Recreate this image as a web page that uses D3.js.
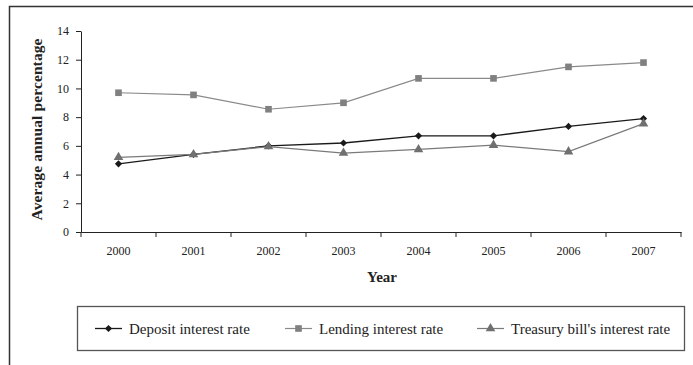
<!DOCTYPE html>
<html>
<head>
<meta charset="utf-8">
<script src="https://cdn.jsdelivr.net/npm/d3@7"></script>
<style>
  html, body { margin: 0; padding: 0; background: #fff; }
  svg { display: block; }
  text { font-family: "Liberation Serif", "Times New Roman", serif; }
</style>
</head>
<body>
<svg id="chart" width="693" height="365"></svg>
<script>
// Interest rates in percent, 2000–2007
const years = ["2000", "2001", "2002", "2003", "2004", "2005", "2006", "2007"];
const depositRate = [4.75, 5.4, 6.0, 6.2, 6.7, 6.7, 7.35, 7.9];
const lendingRate = [9.7, 9.55, 8.55, 9.0, 10.7, 10.7, 11.5, 11.8];
const treasuryRate = [5.2, 5.4, 5.95, 5.5, 5.75, 6.05, 5.6, 7.55];
const yTicks = [0, 2, 4, 6, 8, 10, 12, 14];
const seriesNames = ["Deposit interest rate", "Lending interest rate", "Treasury bill's interest rate"];

const serif = "Liberation Serif, Times New Roman, serif";

// Diamond = square turned 45 degrees
const series = [
  { name: seriesNames[0], values: depositRate, stroke: "#1a1a1a", fill: "#1a1a1a", symbol: d3.symbolSquare, size: 26, rot: 45, width: 1.3 },
  { name: seriesNames[1], values: lendingRate, stroke: "#8a8a8a", fill: "#808080", symbol: d3.symbolSquare, size: 44, rot: 0, width: 1.2 },
  { name: seriesNames[2], values: treasuryRate, stroke: "#7a7a7a", fill: "#707070", symbol: d3.symbolTriangle, size: 40, rot: 0, width: 1.2 }
];

const svg = d3.select("#chart");

// Frame around the whole chart
svg.append("path")
  .attr("d", "M9.5,365 L9.5,6.5 L693,6.5")
  .attr("fill", "none").attr("stroke", "#333").attr("stroke-width", 1.5);

const x = d3.scaleBand().domain(years).range([81, 681]);
const y = d3.scaleLinear().domain([0, 14]).range([232, 31]);
const ink = "#222";

// Y axis
const yAxis = svg.append("g")
  .attr("transform", `translate(${x.range()[0]},0)`)
  .call(d3.axisLeft(y).tickValues(yTicks).tickSize(5).tickPadding(7).tickSizeOuter(0));
yAxis.attr("font-family", serif);
yAxis.select(".domain").attr("stroke", ink);
yAxis.selectAll(".tick line").attr("stroke", ink);
yAxis.selectAll(".tick text").attr("font-size", 12).attr("fill", ink);

// X axis: labels centred in each band, ticks on band boundaries
const xAxis = svg.append("g")
  .attr("transform", `translate(0,${y(0)})`)
  .call(d3.axisBottom(x).tickSize(0).tickPadding(14).tickSizeOuter(0));
xAxis.attr("font-family", serif);
xAxis.select(".domain").attr("stroke", ink);
xAxis.selectAll(".tick text").attr("font-size", 12).attr("fill", ink);
const boundaries = years.map(d => x(d)).concat([x.range()[1]]);
xAxis.selectAll(".bound")
  .data(boundaries)
  .join("line")
  .attr("class", "bound")
  .attr("x1", d => d).attr("x2", d => d)
  .attr("y1", 0).attr("y2", 5)
  .attr("stroke", ink);

// Axis titles
svg.append("text")
  .attr("transform", `translate(42,${(y(0) + y(14)) / 2 - 2}) rotate(-90)`)
  .attr("text-anchor", "middle")
  .attr("font-family", serif)
  .attr("font-size", 15.5).attr("font-weight", "bold").attr("fill", ink)
  .attr("textLength", 182).attr("lengthAdjust", "spacing")
  .text("Average annual percentage");

svg.append("text")
  .attr("x", (x.range()[0] + x.range()[1]) / 2 + 1)
  .attr("y", 282)
  .attr("text-anchor", "middle")
  .attr("font-family", serif)
  .attr("font-size", 15).attr("font-weight", "bold").attr("fill", ink)
  .text("Year");

// Series lines and markers
const cx = d => x(d) + x.bandwidth() / 2;
const line = d3.line().x((v, i) => cx(years[i])).y(v => y(v));

series.forEach(s => {
  svg.append("path")
    .datum(s.values)
    .attr("d", line)
    .attr("fill", "none")
    .attr("stroke", s.stroke)
    .attr("stroke-width", s.width);
});
series.forEach(s => {
  svg.append("g").selectAll("path")
    .data(s.values)
    .join("path")
    .attr("transform", (v, i) => `translate(${cx(years[i])},${y(v)}) rotate(${s.rot})`)
    .attr("d", d3.symbol(s.symbol, s.size))
    .attr("fill", s.fill);
});

// Legend
const legend = svg.append("g");
legend.append("rect")
  .attr("x", 77.5).attr("y", 306.5).attr("width", 607).attr("height", 44)
  .attr("fill", "#fff").attr("stroke", "#555").attr("stroke-width", 1.3);

const legendItems = [
  { s: series[0], x0: 95 },
  { s: series[1], x0: 285 },
  { s: series[2], x0: 477 }
];
const ly = 328.5;
legendItems.forEach(item => {
  const g = legend.append("g").attr("transform", `translate(${item.x0},${ly})`);
  g.append("line").attr("x1", 0).attr("x2", 27).attr("y1", 0).attr("y2", 0)
    .attr("stroke", item.s.stroke).attr("stroke-width", item.s.width);
  g.append("path").attr("transform", `translate(13.5,0) rotate(${item.s.rot})`)
    .attr("d", d3.symbol(item.s.symbol, item.s.size))
    .attr("fill", item.s.fill);
  g.append("text").attr("x", 34).attr("y", 0).attr("dy", "0.35em")
    .attr("font-family", serif)
    .attr("font-size", 15).attr("fill", ink)
    .text(item.s.name);
});
</script>
</body>
</html>
